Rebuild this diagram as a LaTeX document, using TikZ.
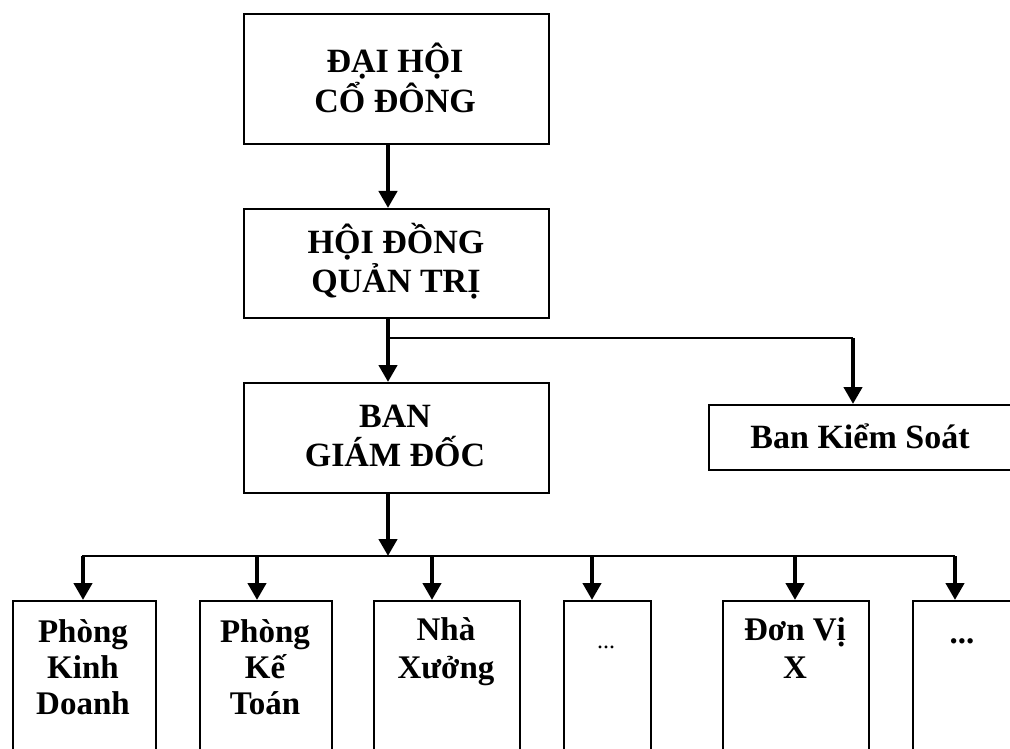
\documentclass[tikz,border=0pt]{standalone}
\usepackage{fontspec}
\setmainfont{Liberation Serif}
\usetikzlibrary{arrows.meta}
\begin{document}
\begin{tikzpicture}[x=1pt,y=-1pt,
  box/.style={draw, line width=2pt, inner sep=0pt, anchor=north west},
  lbl/.style={font=\bfseries\fontsize{34}{40}\selectfont, anchor=base, inner sep=0pt},
  sublbl/.style={font=\bfseries\fontsize{33}{38}\selectfont, anchor=base, inner sep=0pt},
  arr/.style={line width=4.5pt, -{Triangle[width=18pt,length=17pt]}},
  bus/.style={line width=2.5pt}]
\clip (0,0) rectangle (1010,749);
\fill[white] (0,0) rectangle (1010,749);
% boxes
\node[box, minimum width=305pt, minimum height=130pt] (dh) at (243,13) {};
\node[box, minimum width=305pt, minimum height=109pt] (hd) at (243,208) {};
\node[box, minimum width=305pt, minimum height=110pt] (bgd) at (243,382) {};
\node[box, minimum width=360pt, minimum height=65pt] (bks) at (708,404) {};
\node[box, minimum width=143pt, minimum height=200pt] (c1) at (12,600) {};
\node[box, minimum width=132pt, minimum height=200pt] (c2) at (199,600) {};
\node[box, minimum width=146pt, minimum height=200pt] (c3) at (373,600) {};
\node[box, minimum width=87pt, minimum height=200pt] (c4) at (563,600) {};
\node[box, minimum width=146pt, minimum height=200pt] (c5) at (722,600) {};
\node[box, minimum width=150pt, minimum height=200pt] (c6) at (912,600) {};
% texts
\node[lbl] (t1a) at (395,73) {ĐẠI HỘI};
\node[lbl] (t1b) at (395,113) {CỔ ĐÔNG};
\node[lbl] (t2a) at (396,253) {HỘI ĐỒNG};
\node[lbl] (t2b) at (396,292) {QUẢN TRỊ};
\node[lbl] (t3a) at (395,427) {BAN};
\node[lbl] (t3b) at (395,466) {GIÁM ĐỐC};
\node[lbl] (t4) at (860,448) {Ban Kiểm Soát};
\node[sublbl] (c1a) at (83,642) {Phòng};
\node[sublbl] (c1b) at (83,678) {Kinh};
\node[sublbl] (c1c) at (83,714) {Doanh};
\node[sublbl] (c2a) at (265,642) {Phòng};
\node[sublbl] (c2b) at (265,678) {Kế};
\node[sublbl] (c2c) at (265,714) {Toán};
\node[sublbl] (c3a) at (446,640) {Nhà};
\node[sublbl] (c3b) at (446,678) {Xưởng};
\node[font=\fontsize{24}{28}\selectfont, anchor=base, inner sep=0pt] (c4a) at (606,648) {...};
\node[sublbl] (c5a) at (795,640) {Đơn Vị};
\node[sublbl] (c5b) at (795,678) {X};
\node[sublbl] (c6a) at (962,643) {...};
% connectors
\coordinate (j1) at (388,338);
\coordinate (j2) at (853,338);
\draw[arr] (dh.south -| j1) -- (hd.north -| j1);
\draw[arr] (hd.south -| j1) -- (bgd.north -| j1);
\draw[bus] (j1) -- (j2);
\draw[arr] (j2) -- (bks.north -| j2);
\coordinate (b0) at (388,556);
\coordinate (bl) at (82,556);
\coordinate (br) at (955,556);
\draw[arr] (bgd.south -| b0) -- (b0);
\draw[bus] (bl) -- (br);
\coordinate (k1) at (83,556);
\coordinate (k2) at (257,556);
\coordinate (k3) at (432,556);
\coordinate (k4) at (592,556);
\coordinate (k5) at (795,556);
\coordinate (k6) at (955,556);
\draw[arr] (k1) -- (c1.north -| k1);
\draw[arr] (k2) -- (c2.north -| k2);
\draw[arr] (k3) -- (c3.north -| k3);
\draw[arr] (k4) -- (c4.north -| k4);
\draw[arr] (k5) -- (c5.north -| k5);
\draw[arr] (k6) -- (c6.north -| k6);
\end{tikzpicture}
\end{document}
